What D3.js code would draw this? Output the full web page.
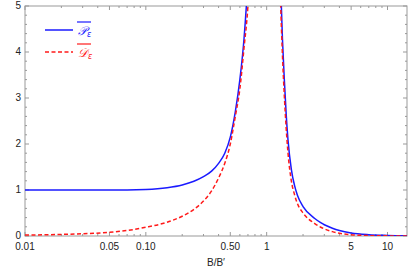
<!DOCTYPE html>
<html>
<head>
<meta charset="utf-8">
<script src="https://cdn.jsdelivr.net/npm/d3@7"></script>
<style>
  body { margin: 0; background: #fff; }
  text { font-family: "Liberation Sans", Arial, sans-serif; }
</style>
</head>
<body>
<script>
// left branch (B/B' < 1)
const bLeft = [0.01, 0.02, 0.03, 0.05, 0.07, 0.1, 0.15, 0.2, 0.25, 0.3, 0.35, 0.4, 0.45, 0.5, 0.55, 0.6, 0.65, 0.7, 0.75, 0.8];
const pLeft = [1.0, 1.0, 1.0, 1.0, 1.0, 1.01, 1.05, 1.11, 1.19, 1.29, 1.41, 1.58, 1.8, 2.15, 2.7, 3.4, 4.3, 5.6, 7.5, 11];
const dLeft = [0.02, 0.035, 0.05, 0.08, 0.12, 0.19, 0.3, 0.43, 0.58, 0.76, 0.98, 1.26, 1.58, 2.0, 2.6, 3.2, 4.1, 5.0, 6.5, 9];

// right branch (B/B' > 1)
const bRight = [1.2, 1.25, 1.3, 1.35, 1.4, 1.45, 1.5, 1.6, 1.7, 1.8, 2.0, 2.5, 2.8, 3, 3.5, 4, 5, 7, 10, 14.5];
const pRight = [11, 7.6, 5.6, 4.3, 3.4, 2.65, 2.1, 1.45, 1.1, 0.88, 0.64, 0.38, 0.29, 0.245, 0.17, 0.12, 0.065, 0.028, 0.013, 0.006];
const dRight = [10, 7.0, 5.2, 3.95, 3.05, 2.35, 1.82, 1.2, 0.9, 0.7, 0.5, 0.27, 0.19, 0.155, 0.095, 0.06, 0.027, 0.009, 0.003, 0.001];

const xTickValues = [0.01, 0.05, 0.1, 0.5, 1, 5, 10];
const xTickLabels = ["0.01", "0.05", "0.10", "0.50", "1", "5", "10"];
const yTickValues = [0, 1, 2, 3, 4, 5];

const margin = { top: 6, right: 2, bottom: 33, left: 25 },
  width = 409 - margin.left - margin.right,
  height = 269 - margin.top - margin.bottom;

const frameColor = "#999";
const blue = "#1a1aff";
const red = "#ff1a1a";

const svg = d3
  .select("body")
  .append("svg")
  .attr("width", width + margin.left + margin.right)
  .attr("height", height + margin.top + margin.bottom)
  .append("g")
  .attr("transform", "translate(" + margin.left + "," + margin.top + ")");

const x = d3.scaleLog().domain([0.01, 14.5]).range([0, width]);
const y = d3.scaleLinear().domain([0, 5]).range([height, 0]);

// minor ticks
const xMinor = [];
[0.01, 0.1, 1, 10].forEach((dec) => {
  for (let k = 2; k <= 9; k++) {
    const v = dec * k;
    if (v <= 14.5 && !xTickValues.some((t) => Math.abs(t - v) < 1e-9)) xMinor.push(v);
  }
});
const yMinor = d3.range(0, 5.001, 0.2).filter((v) => Math.abs(v - Math.round(v)) > 1e-6);

svg
  .append("defs")
  .append("clipPath")
  .attr("id", "clip")
  .append("rect")
  .attr("width", width)
  .attr("height", height);

// frame
svg
  .append("rect")
  .attr("width", width)
  .attr("height", height)
  .attr("fill", "none")
  .attr("stroke", frameColor)
  .attr("stroke-width", 1);

function drawXTicks(values, len) {
  const g = svg.append("g").attr("stroke", frameColor);
  g.selectAll("line.b")
    .data(values)
    .enter()
    .append("line")
    .attr("x1", (d) => x(d))
    .attr("x2", (d) => x(d))
    .attr("y1", height)
    .attr("y2", height - len);
  g.selectAll("line.t")
    .data(values)
    .enter()
    .append("line")
    .attr("x1", (d) => x(d))
    .attr("x2", (d) => x(d))
    .attr("y1", 0)
    .attr("y2", len);
}
function drawYTicks(values, len) {
  const g = svg.append("g").attr("stroke", frameColor);
  g.selectAll("line.l")
    .data(values)
    .enter()
    .append("line")
    .attr("x1", 0)
    .attr("x2", len)
    .attr("y1", (d) => y(d))
    .attr("y2", (d) => y(d));
  g.selectAll("line.r")
    .data(values)
    .enter()
    .append("line")
    .attr("x1", width)
    .attr("x2", width - len)
    .attr("y1", (d) => y(d))
    .attr("y2", (d) => y(d));
}

drawXTicks(xTickValues, 4);
drawXTicks(xMinor, 2);
drawYTicks(yTickValues, 4);
drawYTicks(yMinor, 2);

svg
  .append("g")
  .attr("font-size", 10)
  .attr("fill", "#222")
  .selectAll("text")
  .data(xTickValues)
  .enter()
  .append("text")
  .attr("x", (d) => x(d))
  .attr("y", height + 14)
  .attr("text-anchor", "middle")
  .text((d, i) => xTickLabels[i]);

svg
  .append("g")
  .attr("font-size", 10)
  .attr("fill", "#222")
  .selectAll("text")
  .data(yTickValues)
  .enter()
  .append("text")
  .attr("x", -4)
  .attr("y", (d) => y(d))
  .attr("dy", "0.3em")
  .attr("text-anchor", "end")
  .text((d) => d);

svg
  .append("text")
  .attr("x", width / 2)
  .attr("y", height + 30)
  .attr("text-anchor", "middle")
  .attr("font-size", 10)
  .attr("fill", "#222")
  .text("B/B\u2032");

// curves
const line = d3
  .line()
  .x((d) => x(d[0]))
  .y((d) => y(d[1]))
  .curve(d3.curveMonotoneX);

const curves = svg.append("g").attr("clip-path", "url(#clip)").attr("fill", "none");

const series = [
  { b: bLeft, v: pLeft, color: blue, dash: null },
  { b: bRight, v: pRight, color: blue, dash: null },
  { b: bLeft, v: dLeft, color: red, dash: "4,2.5" },
  { b: bRight, v: dRight, color: red, dash: "4,2.5" },
];

series.forEach((s) => {
  curves
    .append("path")
    .datum(s.b.map((b, i) => [b, s.v[i]]))
    .attr("d", line)
    .attr("stroke", s.color)
    .attr("stroke-width", 1.5)
    .attr("stroke-dasharray", s.dash);
});

// legend
const legend = svg.append("g").attr("transform", "translate(20,24)");
const legendItems = [
  { label: "\uD835\uDCAB", color: blue, dash: null },
  { label: "\uD835\uDC9F", color: red, dash: "4,2.5" },
];
legendItems.forEach((d, i) => {
  const g = legend.append("g").attr("transform", `translate(0,${i * 22})`);
  g.append("line")
    .attr("x1", 0)
    .attr("x2", 28)
    .attr("stroke", d.color)
    .attr("stroke-width", 1.5)
    .attr("stroke-dasharray", d.dash);
  g.append("line")
    .attr("x1", 32)
    .attr("x2", 46)
    .attr("y1", -8)
    .attr("y2", -8)
    .attr("stroke", d.color)
    .attr("stroke-width", 1.2);
  const t = g
    .append("text")
    .attr("x", 33)
    .attr("y", 5)
    .attr("fill", d.color)
    .attr("font-size", 12)
    .style("font-family", "'DejaVu Sans', 'Noto Sans', serif")
    .style("font-style", "italic");
  t.append("tspan").text(d.label);
  t.append("tspan").attr("font-size", 8).attr("dy", 2).text("\u03B5");
});
</script>
</body>
</html>
